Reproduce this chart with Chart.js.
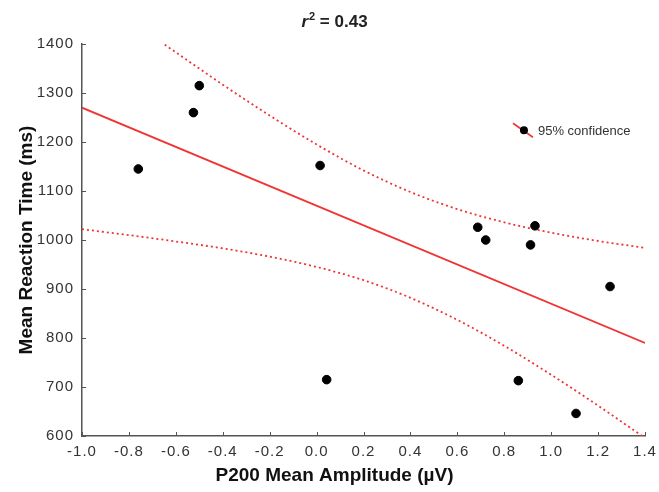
<!DOCTYPE html>
<html>
<head>
<meta charset="utf-8">
<script src="https://cdn.jsdelivr.net/npm/chart.js@4/dist/chart.umd.min.js"></script>
<style>
  html, body { margin: 0; padding: 0; background: #fff; }
</style>
</head>
<body>
<canvas id="p200chart" width="659" height="492"></canvas>
<script>
// subject data
const amplitude = [-0.76, -0.525, -0.50, 0.015, 0.043, 0.687, 0.721, 0.86, 0.912, 0.931, 1.106, 1.251]
const reactionTime = [1145, 1260, 1315, 1152, 715, 1026, 1000, 713, 990, 1029, 646, 905]

// regression line
const fitX = [-1.0, 1.4]
const fitY = [1270, 790]

// 95% confidence bands
const upperX = [-0.7, -0.6, -0.4, -0.2, 0.0, 0.2, 0.4, 0.6, 0.8, 1.0, 1.2, 1.4]
const upperY = [1416, 1383, 1317, 1254, 1195, 1142, 1098, 1063, 1036, 1015, 998, 984]
const lowerX = [-1.0, -0.8, -0.6, -0.4, -0.2, 0.0, 0.2, 0.4, 0.6, 0.8, 1.0, 1.2, 1.4]
const lowerY = [1022, 1010, 997, 983, 966, 945, 918, 882, 837, 784, 725, 662, 596]

const xMin = -1.0, xMax = 1.4, xStep = 0.2
const yMin = 600, yMax = 1400, yStep = 100

const xTitle = 'P200 Mean Amplitude (µV)'
const yTitle = 'Mean Reaction Time (ms)'

const red = '#f03434'
const axisColor = '#555'
const fontFam = '"Liberation Sans", Arial, sans-serif'

const toPoints = (xs, ys) => xs.map((x, i) => ({x: x, y: ys[i]}))

// slightly spaced tick text like the original
const spacing = {
  id: 'spacing',
  beforeDraw(chart) { chart.ctx.letterSpacing = '1px' },
  afterDraw(chart) { chart.ctx.letterSpacing = '0px' }
}

// r^2 title and the two axis titles
const titles = {
  id: 'titles',
  afterDraw(chart) {
    const ctx = chart.ctx
    const midX = chart.width / 2 + 5
    ctx.save()
    ctx.letterSpacing = '0px'
    ctx.fillStyle = '#222'
    ctx.textBaseline = 'alphabetic'
    const base = 27
    const big = 'bold 17px ' + fontFam
    const bigIt = 'italic bold 17px ' + fontFam
    const small = 'bold 11px ' + fontFam
    ctx.font = bigIt
    const wR = ctx.measureText('r').width
    ctx.font = small
    const w2 = ctx.measureText('2').width
    ctx.font = big
    const wRest = ctx.measureText(' = 0.43').width
    let x = midX - (wR + w2 + 1 + wRest) / 2
    ctx.font = bigIt
    ctx.fillText('r', x, base)
    x += wR + 1
    ctx.font = small
    ctx.fillText('2', x, base - 7)
    x += w2
    ctx.font = big
    ctx.fillText(' = 0.43', x, base)

    // axis titles
    ctx.fillStyle = '#111'
    ctx.font = 'bold 19px ' + fontFam
    ctx.textAlign = 'center'
    ctx.textBaseline = 'middle'
    ctx.fillText(xTitle, midX, 476)
    const a = chart.chartArea
    ctx.translate(27, (a.top + a.bottom) / 2)
    ctx.rotate(-Math.PI / 2)
    ctx.fillText(yTitle, 0, 0)
    ctx.restore()
  }
}

// small tick marks pointing into the plot
const innerTicks = {
  id: 'innerTicks',
  afterDraw(chart) {
    const ctx = chart.ctx
    const xs = chart.scales.x, ys = chart.scales.y
    ctx.save()
    ctx.strokeStyle = axisColor
    ctx.lineWidth = 1
    ctx.beginPath()
    xs.ticks.forEach(t => {
      const px = Math.round(xs.getPixelForValue(t.value)) + 0.5
      ctx.moveTo(px, ys.bottom)
      ctx.lineTo(px, ys.bottom - 4)
    })
    ys.ticks.forEach(t => {
      const py = Math.round(ys.getPixelForValue(t.value)) + 0.5
      ctx.moveTo(xs.left, py)
      ctx.lineTo(xs.left + 4, py)
    })
    ctx.stroke()
    ctx.restore()
  }
}

// legend inside the plot
const legendPlugin = {
  id: 'ciLegend',
  afterDraw(chart) {
    const a = chart.chartArea
    const ctx = chart.ctx
    const cx = a.left + (a.right - a.left) * 0.785
    const cy = a.top + (a.bottom - a.top) * 0.22
    ctx.save()
    ctx.letterSpacing = '0px'
    ctx.strokeStyle = red
    ctx.lineWidth = 1.6
    ctx.beginPath()
    ctx.moveTo(cx - 11, cy - 7)
    ctx.lineTo(cx + 9, cy + 7)
    ctx.stroke()
    ctx.fillStyle = '#000'
    ctx.beginPath()
    ctx.arc(cx, cy, 4, 0, Math.PI * 2)
    ctx.fill()
    ctx.fillStyle = '#333'
    ctx.font = '13px ' + fontFam
    ctx.textBaseline = 'middle'
    ctx.fillText('95% confidence', cx + 14, cy + 1)
    ctx.restore()
  }
}

const ctx = document.getElementById('p200chart')
const chart = new Chart(ctx, {
  type: 'scatter',
  data: {
    datasets: [
      {
        label: 'subjects',
        data: toPoints(amplitude, reactionTime),
        backgroundColor: '#000',
        borderColor: '#000',
        pointRadius: 4.3,
        pointHoverRadius: 4.3,
        order: 0
      },
      {
        label: 'fit',
        data: toPoints(fitX, fitY),
        showLine: true,
        borderColor: red,
        borderWidth: 1.8,
        pointRadius: 0,
        order: 1
      },
      {
        label: 'upper 95%',
        data: toPoints(upperX, upperY),
        showLine: true,
        borderColor: red,
        borderWidth: 1.8,
        borderDash: [2, 3],
        cubicInterpolationMode: 'monotone',
        pointRadius: 0,
        order: 2
      },
      {
        label: 'lower 95%',
        data: toPoints(lowerX, lowerY),
        showLine: true,
        borderColor: red,
        borderWidth: 1.8,
        borderDash: [2, 3],
        cubicInterpolationMode: 'monotone',
        pointRadius: 0,
        order: 2
      }
    ]
  },
  options: {
    responsive: false,
    animation: false,
    layout: {padding: {top: 44, right: 14, left: 0, bottom: 0}},
    plugins: {
      legend: {display: false},
      tooltip: {enabled: false},
      title: {display: false}
    },
    scales: {
      x: {
        type: 'linear',
        min: xMin,
        max: xMax,
        grid: {display: false, drawTicks: false},
        border: {display: true, color: axisColor, width: 1.5},
        ticks: {
          stepSize: xStep,
          maxRotation: 0,
          padding: 7,
          color: '#333',
          font: {family: fontFam, size: 15},
          callback: v => (Math.abs(v) < 1e-9 ? 0 : v).toFixed(1)
        },
        afterFit: s => { s.height = 56; s.paddingLeft = 0; s.paddingRight = 0 }
      },
      y: {
        type: 'linear',
        min: yMin,
        max: yMax,
        grid: {display: false, drawTicks: false},
        border: {display: true, color: axisColor, width: 1.5},
        ticks: {
          stepSize: yStep,
          padding: 8,
          color: '#333',
          font: {family: fontFam, size: 15},
          callback: v => String(v)
        },
        afterFit: s => { s.width = 82; s.paddingTop = 0; s.paddingBottom = 0 }
      }
    }
  },
  plugins: [spacing, titles, innerTicks, legendPlugin]
})
</script>
</body>
</html>
